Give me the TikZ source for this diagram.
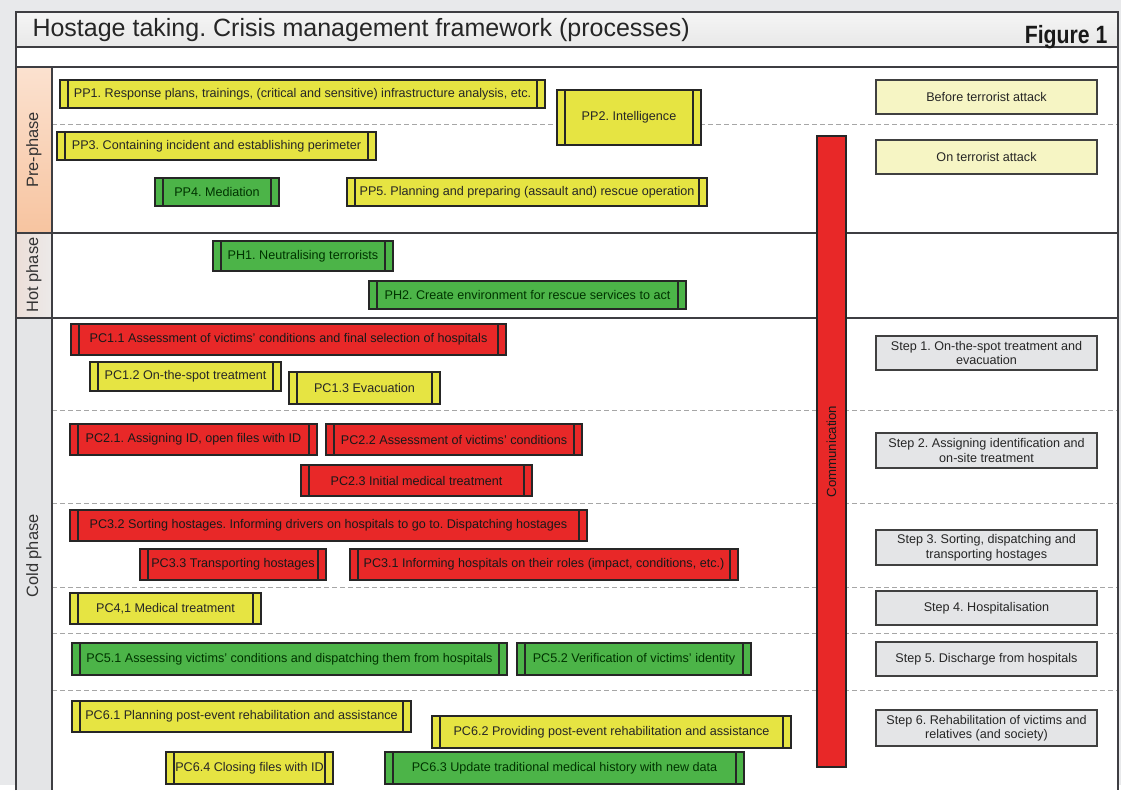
\documentclass[tikz,border=0pt]{standalone}
\usepackage{fontspec}
\setmainfont{Liberation Sans}
\usepackage{graphicx}
\usepackage{xcolor}
\usepackage{tikz}
\usetikzlibrary{positioning}
\definecolor{bgcol}{RGB}{232,233,235}
\definecolor{framecol}{RGB}{62,62,66}
\definecolor{procyel}{RGB}{230,228,66}
\definecolor{procgrn}{RGB}{76,180,72}
\definecolor{procred}{RGB}{232,40,40}
\definecolor{stepgray}{RGB}{228,229,231}
\definecolor{stepyel}{RGB}{246,245,196}
\definecolor{preph}{RGB}{247,196,160}
\definecolor{hotph}{RGB}{236,222,216}
\definecolor{coldph}{RGB}{228,229,231}
\frenchspacing

\begin{document}
\begin{tikzpicture}[
        x=1pt, y=-1pt,
        proc/.style={draw=black!85, line width=1.3pt, inner sep=0pt,
                     font=\fontsize{12.6}{14}\selectfont, text=black!85,
                     path picture={
                       \draw[line width=1.3pt, black!85]
                         ([xshift=8pt]path picture bounding box.north west) --
                         ([xshift=8pt]path picture bounding box.south west)
                         ([xshift=-8pt]path picture bounding box.north east) --
                         ([xshift=-8pt]path picture bounding box.south east);}},
        yel/.style={proc, fill=procyel},
        grn/.style={proc, fill=procgrn, text=green!20!black},
        red/.style={proc, fill=procred, text=black!90},
        stepbox/.style={draw=black!75, line width=1.2pt, fill=stepgray,
                        minimum width=221, align=center, inner sep=2pt,
                        font=\fontsize{12.6}{14.5}\selectfont, text=black!85},
        stepyelbox/.style={stepbox, fill=stepyel},
        phase/.style={rotate=90, font=\fontsize{16.4}{18}\selectfont, text=black!80},
        sep/.style={gray!70, line width=1pt, dash pattern=on 5pt off 3pt},
        hline/.style={framecol, line width=1.8pt},
      ]
        % ── background and frame ──
        \fill[bgcol] (0,0) rectangle (1121,785);
        \fill[white] (16,47) rectangle (1118,790);
        \shade[top color=gray!8, bottom color=gray!18] (16,12) rectangle (1118,47);
        \shade[top color=preph!50, bottom color=preph] (16,67) rectangle (52,233);
        \shade[left color=hotph, right color=hotph!60!gray!30] (16,233) rectangle (52,318);
        \fill[coldph] (16,318) rectangle (52,790);

        % ── phase separators ──
        \draw[sep] (52,125) -- (1118,125);
        \foreach \yy in {410,503,587,633,690}
          \draw[sep] (52,\yy) -- (1118,\yy);
        \draw[hline] (16,47) -- (1118,47);
        \draw[hline] (16,67) -- (1118,67);
        \draw[hline] (16,233) -- (1118,233);
        \draw[hline] (16,318) -- (1118,318);
        \draw[hline] (52,67) -- (52,790);
        \draw[framecol, line width=2.6pt] (16,790) -- (16,12) -- (1118,12) -- (1118,790);

        % ── title ──
        \node[anchor=west, font=\fontsize{25}{27}\selectfont, text=black!85]
          (title) at (29,30) {Hostage taking. Crisis management framework (processes)};
        \node[anchor=east, font=\fontsize{25}{26}\selectfont\bfseries, text=black!90]
          (fig) at (1111,37) {\scalebox{0.85}[1]{Figure 1}};

        % ── phase labels ──
        \node[phase] (lpre)  at (34,150) {Pre-phase};
        \node[phase] (lhot)  at (34,275) {Hot phase};
        \node[phase] (lcold) at (34,556) {Cold phase};

        % ── communication bar ──
        \node[red, rotate=90, minimum width=631, minimum height=29,
              font=\fontsize{13.2}{14}\selectfont,
              path picture={
                \draw[line width=1.3pt, black!85]
                  ([xshift=9pt]path picture bounding box.north west) --
                  ([xshift=9pt]path picture bounding box.south west)
                  ([xshift=-10pt]path picture bounding box.north east) --
                  ([xshift=-10pt]path picture bounding box.south east);}]
          (comm) at (831.5,451.5) {Communication};

        % ── Pre-phase ──
        \node[yel, minimum width=485, minimum height=28] (pp1) at (302.5,94)
          {PP1. Response plans, trainings, (critical and sensitive) infrastructure analysis, etc.};
        \node[yel, minimum width=144, minimum height=55] (pp2) at (629,117.5) {PP2. Intelligence};
        \node[yel, minimum width=319, minimum height=28] (pp3) at (216.5,146)
          {PP3. Containing incident and establishing perimeter};
        \node[grn, minimum width=124, minimum height=28] (pp4) at (217,192) {PP4. Mediation};
        \node[yel, minimum width=360, minimum height=28] (pp5) at (527,192)
          {PP5. Planning and preparing (assault and) rescue operation};

        % ── Hot phase ──
        \node[grn, minimum width=180, minimum height=30] (ph1) at (303,256) {PH1. Neutralising terrorists};
        \node[grn, minimum width=317, minimum height=28] (ph2) at (527.5,295)
          {PH2. Create environment for rescue services to act};

        % ── Cold phase ──
        \node[red, minimum width=435, minimum height=31] (pc11) at (288.5,339.5)
          {PC1.1 Assessment of victims' conditions and final selection of hospitals};
        \node[yel, minimum width=191, minimum height=29] (pc12) at (185.5,376.5) {PC1.2 On-the-spot treatment};
        \node[yel, minimum width=151, minimum height=32] (pc13) at (364.5,388) {PC1.3 Evacuation};

        \node[red, minimum width=247, minimum height=31] (pc21) at (193.5,439.5)
          {PC2.1. Assigning ID, open files with ID};
        \node[red, minimum width=256, minimum height=31] (pc22) at (454,439.5)
          {PC2.2 Assessment of victims' conditions};
        \node[red, minimum width=231, minimum height=31] (pc23) at (416.5,480.5) {PC2.3 Initial medical treatment};

        \node[red, minimum width=517, minimum height=31] (pc32) at (328.5,525.5)
          {PC3.2 Sorting hostages. Informing drivers on hospitals to go to. Dispatching hostages};
        \node[red, minimum width=186, minimum height=31] (pc33) at (233,564.5) {PC3.3 Transporting hostages};
        \node[red, minimum width=388, minimum height=31] (pc31) at (544,564.5)
          {PC3.1 Informing hospitals on their roles (impact, conditions, etc.)};

        \node[yel, minimum width=191, minimum height=31] (pc41) at (165.5,608.5) {PC4,1 Medical treatment};

        \node[grn, minimum width=435, minimum height=32] (pc51) at (289.5,659)
          {PC5.1 Assessing victims' conditions and dispatching them from hospitals};
        \node[grn, minimum width=234, minimum height=32] (pc52) at (634,659)
          {PC5.2 Verification of victims' identity};

        \node[yel, minimum width=339, minimum height=31] (pc61) at (241.5,716.5)
          {PC6.1 Planning post-event rehabilitation and assistance};
        \node[yel, minimum width=359, minimum height=32] (pc62) at (611.5,732)
          {PC6.2 Providing post-event rehabilitation and assistance};
        \node[yel, minimum width=167, minimum height=32] (pc64) at (249.5,768) {PC6.4 Closing files with ID};
        \node[grn, minimum width=359, minimum height=32] (pc63) at (564.5,768)
          {PC6.3 Update traditional medical history with new data};

        % ── Steps ──
        \node[stepyelbox, minimum height=34] (before) at (986.5,97) {Before terrorist attack};
        \node[stepyelbox, minimum height=34] (onatt)  at (986.5,157) {On terrorist attack};
        \node[stepbox, minimum height=34] (st1) at (986.5,353)
          {Step 1. On-the-spot treatment and\\evacuation};
        \node[stepbox, minimum height=35] (st2) at (986.5,450.5)
          {Step 2. Assigning identification and\\on-site treatment};
        \node[stepbox, minimum height=35] (st3) at (986.5,547.5)
          {Step 3. Sorting, dispatching and\\transporting hostages};
        \node[stepbox, minimum height=34] (st4) at (986.5,608) {Step 4. Hospitalisation};
        \node[stepbox, minimum height=34] (st5) at (986.5,659) {Step 5. Discharge from hospitals};
        \node[stepbox, minimum height=36] (st6) at (986.5,728)
          {Step 6. Rehabilitation of victims and\\relatives (and society)};
      \end{tikzpicture}
\end{document}
